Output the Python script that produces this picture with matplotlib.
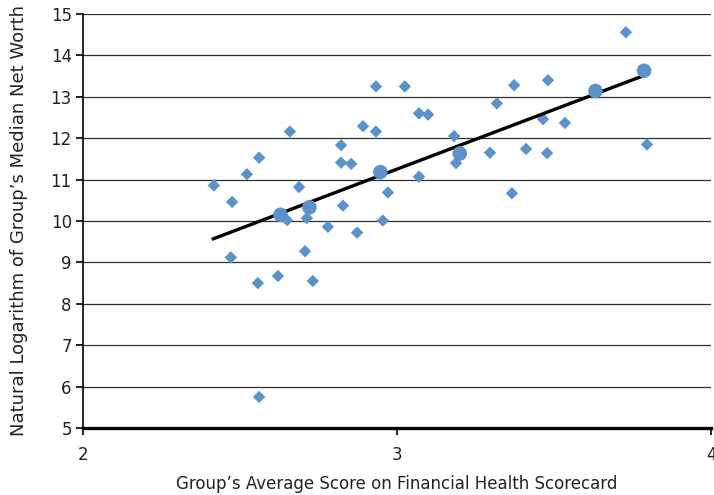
import numpy as np
import matplotlib
matplotlib.use("Agg")
from matplotlib import pyplot as plt

# individual groups (diamonds)
score = [2.417, 2.475, 2.471, 2.522, 2.561, 2.557, 2.561, 2.621, 2.659, 2.650,
         2.688, 2.713, 2.707, 2.732, 2.780, 2.822, 2.822, 2.828, 2.854, 2.873,
         2.892, 2.933, 2.933, 2.955, 2.971, 3.025, 3.070, 3.099, 3.070, 3.182,
         3.188, 3.296, 3.318, 3.373, 3.366, 3.411, 3.465, 3.481, 3.478, 3.535,
         3.729, 3.796]
networth = [10.86, 10.46, 9.12, 11.13, 11.53, 8.50, 5.75, 8.67, 12.16, 10.02,
            10.82, 10.07, 9.27, 8.55, 9.86, 11.41, 11.83, 10.37, 11.38, 9.72,
            12.29, 13.25, 12.16, 10.01, 10.69, 13.25, 12.60, 12.57, 11.07, 12.05,
            11.40, 11.65, 12.84, 13.28, 10.67, 11.74, 12.46, 13.40, 11.64, 12.37,
            14.56, 11.85]

# group averages (circles)
avg_score = [2.629, 2.721, 2.947, 3.200, 3.632, 3.787]
avg_networth = [10.15, 10.33, 11.18, 11.63, 13.14, 13.63]

# trend line ends
trend_x = [2.415, 3.785]
trend_y = [9.57, 13.51]

blue = '#5B92C9'

fig = plt.figure(figsize=(7.14, 4.95), dpi=100)
ax = fig.add_axes([0.1162, 0.1354, 0.8796, 0.8363])

#lineas de la cuadricula
for yv in range(6, 16):
    ax.axhline(yv, color='#303030', lw=0.9, zorder=1)

ax.scatter(score, networth, marker='D', s=40, color=blue, edgecolors='none', zorder=3)
ax.plot(trend_x, trend_y, color='black', lw=2.4, zorder=4)
ax.scatter(avg_score, avg_networth, marker='o', s=110, color=blue, edgecolors='none', zorder=5)

ax.set_xlim(2, 4)
ax.set_ylim(5, 15)
ax.set_xticks([2, 3, 4])
ax.set_yticks(range(5, 16))

ax.spines['top'].set_visible(False)
ax.spines['right'].set_visible(False)
ax.spines['left'].set_linewidth(1.2)
ax.spines['bottom'].set_linewidth(2.4)
ax.tick_params(axis='y', direction='out', length=5, width=1.2, labelsize=12, pad=3, labelcolor='#222222')
ax.tick_params(axis='x', direction='out', length=5, width=1.2, labelsize=12, pad=8, labelcolor='#222222')

ax.set_xlabel("Group\u2019s Average Score on Financial Health Scorecard", fontsize=12, labelpad=8, color='#222222')
ax.set_ylabel("Natural Logarithm of Group\u2019s Median Net Worth", fontsize=13, labelpad=16, color='#222222')

fig.savefig('out.png', dpi=100)
